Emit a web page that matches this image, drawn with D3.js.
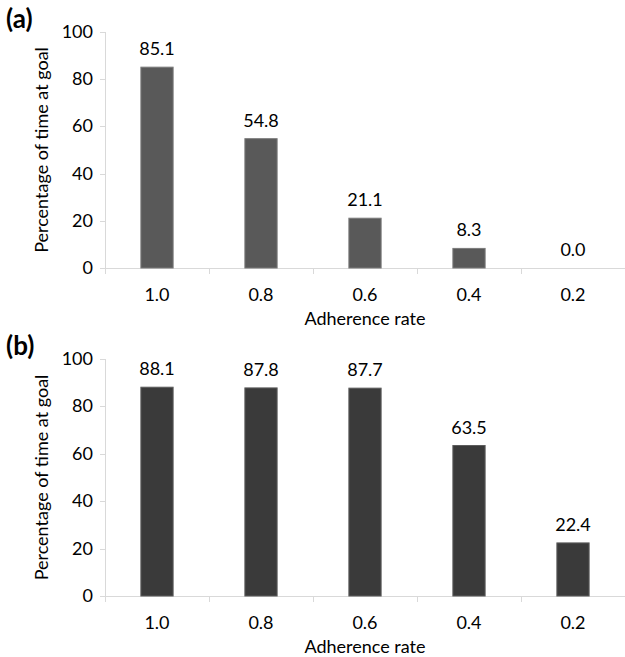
<!DOCTYPE html>
<html lang="en">
<head>
<meta charset="UTF-8">
<title>Adherence rate vs time at goal</title>
<script src="https://d3js.org/d3.v7.min.js"></script>
<style>
body {
  margin: 0;
  background: #fff;
  font-family: 'Lato', 'Open Sans', sans-serif;
}
.tick-label, .val-label, .axis-title {
  fill: #000;
  font-size: 18px;
}
.panel-label {
  font-size: 26px;
  font-weight: bold;
}
</style>
</head>
<body>
<svg width="625" height="657"></svg>
<script>
// chart values
var categories = ["1.0", "0.8", "0.6", "0.4", "0.2"];
var valuesA = [85.1, 54.8, 21.1, 8.3, 0.0];
var valuesB = [88.1, 87.8, 87.7, 63.5, 22.4];
var yTicks = [0, 20, 40, 60, 80, 100];

var svg = d3.select("svg");

var x = d3.scaleBand()
    .domain(categories)
    .range([105, 625])
    .paddingInner(0.69)
    .paddingOuter(0.345);

function drawPanel(label, values, top, bottom, fill, stroke) {
  var y = d3.scaleLinear().domain([0, 100]).range([bottom, top]);
  var g = svg.append("g");

  // y axis line + ticks
  g.append("line")
    .attr("x1", 105.5).attr("x2", 105.5)
    .attr("y1", top).attr("y2", bottom)
    .attr("stroke", "#d9d9d9");
  g.selectAll(".ytick")
    .data(yTicks)
    .enter().append("line")
    .attr("x1", 100).attr("x2", 105)
    .attr("y1", function(d) { return Math.round(y(d)) + 0.5; })
    .attr("y2", function(d) { return Math.round(y(d)) + 0.5; })
    .attr("stroke", "#d9d9d9");
  g.selectAll(".ylab")
    .data(yTicks)
    .enter().append("text")
    .attr("class", "tick-label")
    .attr("x", 93)
    .attr("y", function(d) { return y(d) + 6; })
    .attr("text-anchor", "end")
    .text(function(d) { return d; });

  // x axis baseline + category ticks
  g.append("line")
    .attr("x1", 100).attr("x2", 625)
    .attr("y1", Math.round(bottom) + 0.5).attr("y2", Math.round(bottom) + 0.5)
    .attr("stroke", "#d9d9d9");
  var step = x.step();
  g.selectAll(".xtick")
    .data(d3.range(categories.length + 1))
    .enter().append("line")
    .attr("x1", function(i) { return Math.round(105 + i * step) + 0.5; })
    .attr("x2", function(i) { return Math.round(105 + i * step) + 0.5; })
    .attr("y1", bottom).attr("y2", bottom + 6)
    .attr("stroke", "#d9d9d9");
  g.selectAll(".xlab")
    .data(categories)
    .enter().append("text")
    .attr("class", "tick-label")
    .attr("x", function(d) { return x(d) + x.bandwidth() / 2; })
    .attr("y", bottom + 33)
    .attr("text-anchor", "middle")
    .text(function(d) { return d; });

  // bars
  g.selectAll(".bar")
    .data(values)
    .enter().append("rect")
    .attr("x", function(d, i) { return x(categories[i]); })
    .attr("width", x.bandwidth())
    .attr("y", function(d) { return y(d); })
    .attr("height", function(d) { return bottom - y(d); })
    .attr("fill", fill)
    .attr("stroke", stroke)
    .attr("stroke-width", 1);

  // value labels
  g.selectAll(".val")
    .data(values)
    .enter().append("text")
    .attr("class", "val-label")
    .attr("x", function(d, i) { return x(categories[i]) + x.bandwidth() / 2; })
    .attr("y", function(d) { return y(d) - 12; })
    .attr("text-anchor", "middle")
    .text(function(d) { return d.toFixed(1); });

  // axis titles
  g.append("text")
    .attr("class", "axis-title")
    .attr("transform", "translate(48," + (top + bottom) / 2 + ") rotate(-90)")
    .attr("text-anchor", "middle")
    .text("Percentage of time at goal");
  g.append("text")
    .attr("class", "axis-title")
    .attr("x", 365)
    .attr("y", bottom + 57)
    .attr("text-anchor", "middle")
    .text("Adherence rate");

  g.append("text")
    .attr("class", "panel-label")
    .attr("x", 6)
    .attr("y", top - 4)
    .text(label);
}

drawPanel("(a)", valuesA, 32, 268, "#595959", "#7a7a7a");
drawPanel("(b)", valuesB, 359, 596, "#3a3a3a", "#5c5c5c");
</script>
</body>
</html>
